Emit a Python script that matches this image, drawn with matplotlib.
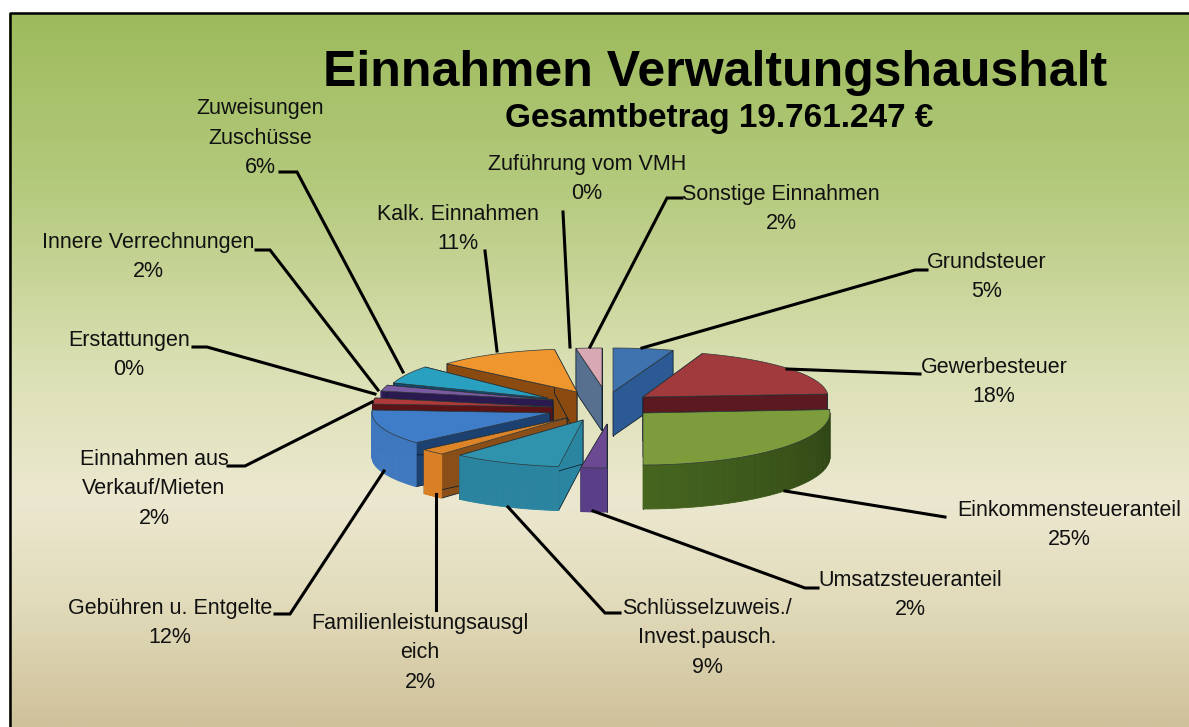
import numpy as np
import matplotlib
matplotlib.use("Agg")
import matplotlib.pyplot as plt
from matplotlib.colors import LinearSegmentedColormap, to_rgb

# ---- data ----
categories = ["Grundsteuer", "Gewerbesteuer", "Einkommensteueranteil", "Umsatzsteueranteil",
              "Schlüsselzuweis./\nInvest.pausch.", "Familienleistungsausgl\neich", "Gebühren u. Entgelte",
              "Einnahmen aus\nVerkauf/Mieten", "Erstattungen", "Innere Verrechnungen",
              "Zuweisungen\nZuschüsse", "Kalk. Einnahmen", "Zuführung vom VMH", "Sonstige Einnahmen"]
shares = [5, 18, 25, 2, 9, 2, 12, 2, 0, 2, 6, 11, 0, 2]

# ---- style / layout ----
top_colors = ["#3f73b0", "#a03a3c", "#7d9c3c", "#6b4a93", "#2f93ad", "#dd8428", "#3f7dc8",
              "#b03a3a", "#6b4a93", "#7a5aa0", "#2aa0c0", "#f0962e", "#58708f", "#d8a8b4"]
rim_colors = ["#2c5a94", "#5c1a20", "#46661f", "#5a3f88", "#2a84a0", "#d97f25", "#4078bf",
              "#5a1418", "#4e3a78", "#3a2a66", "#124a70", "#8a4a10", "#58708f", "#58708f"]
side_colors = ["#2c5a94", "#5c1a20", "#3f5a1c", "#4e3a78", "#2a86a0", "#8a4f18", "#1c4070",
               "#5a1418", "#4e3a78", "#2a1a50", "#124a70", "#8a4a10", "#58708f", "#58708f"]
apex_x = [613, 643, 643, 607, 583, 567, 550, 553, 553, 553, 547, 577, 600, 602]
apex_y = [392, 397, 413, 424, 420, 418, 413, 407, 400, 400, 398, 392, 387, 387]
radius_x = [187, 185, 187, 200, 187, 190, 178, 181, 175, 175, 162, 173, 200, 200]
radius_y = [44, 46, 52, 44, 47, 48, 45, 46, 46, 46, 47, 43, 39, 39]
depth = 44
draw_order = [13, 11, 10, 9, 7, 6, 5, 4, 3, 0, 1, 2]

label_x = [987, 994, 1069, 910, 707, 420, 170, 154, 129, 148, 260, 458, 587, 781]
label_y = [277, 382, 525, 595, 638, 653, 623, 489, 355, 257, 138, 229, 179, 209]

leaders = [[(927, 270), (915, 270), (642, 348)],
           [(920, 374), (787, 369)],
           [(945, 517), (785, 491)],
           [(818, 588), (805, 588), (593, 511)],
           [(620, 613), (605, 613), (508, 507)],
           [(436, 610), (436, 494)],
           [(275, 614), (290, 614), (384, 471)],
           [(228, 466), (245, 466), (372, 402)],
           [(193, 347), (207, 347), (375, 394)],
           [(256, 250), (270, 250), (378, 390)],
           [(280, 172), (297, 172), (403, 372)],
           [(485, 251), (497, 351)],
           [(563, 212), (570, 347)],
           [(682, 198), (667, 198), (590, 347)]]

plt.rcParams["font.family"] = ["Liberation Sans", "DejaVu Sans"]
fig = plt.figure(figsize=(11.89, 7.27), dpi=100, facecolor="white")
ax = fig.add_axes([0, 0, 1, 1])
ax.axis("off")

# background gradient and frame (open on the right and at the bottom)
grad = LinearSegmentedColormap.from_list(
    "bg", [(0, "#9dbb5c"), (0.25, "#b5ca7e"), (0.5, "#dbe0b4"), (0.68, "#ece8d0"), (0.82, "#e2dcbc"), (1, "#cfc19a")])
ax.imshow(np.linspace(0, 1, 256)[:, None], cmap=grad, aspect="auto",
          extent=(9, 1189, 727, 13), zorder=0)
ax.plot([9.5, 9.5, 1189], [727, 13, 13], color="black", lw=1.8, zorder=1)
ax.set_xlim(0, 1189)
ax.set_ylim(727, 0)

# exploded pie drawn from the shares
total = sum(shares)
edges = np.cumsum([0] + shares) / total * 2 * np.pi


def point(i, a, z=0.0):
    return (apex_x[i] + radius_x[i] * np.sin(a), apex_y[i] - radius_y[i] * np.cos(a) + z)


def side(i, a):
    pts = [point(i, a), (apex_x[i], apex_y[i]), (apex_x[i], apex_y[i] + depth), point(i, a, depth)]
    ax.fill(*zip(*pts), color=side_colors[i], ec="#102030", lw=0.6, zorder=3)


for i in draw_order:
    a0, a1 = edges[i], edges[i + 1]
    side(i, a0)
    side(i, a1)
    lo, hi = max(a0, np.pi / 2), min(a1, 3 * np.pi / 2 + 0.2)
    if hi > lo:
        arc = np.linspace(lo, hi, 41)
        base = np.array(to_rgb(rim_colors[i]))
        for s, e in zip(arc[:-1], arc[1:]):
            shade = 1 - 0.33 * max(0.0, (np.pi - s) / (np.pi / 2))
            pts = [point(i, s), point(i, e), point(i, e, depth), point(i, s, depth)]
            ax.fill(*zip(*pts), color=tuple(base * shade), lw=0.6, zorder=3)
    arc = np.linspace(a0, a1, 40)
    pts = [(apex_x[i], apex_y[i])] + [point(i, a) for a in arc]
    ax.fill(*zip(*pts), color=top_colors[i], ec="#303838", lw=0.5, zorder=3)

# leader lines and labels
for path in leaders:
    ax.plot(*zip(*path), color="black", lw=2.2, solid_joinstyle="miter", zorder=4)
for name, v, x, y in zip(categories, shares, label_x, label_y):
    ax.text(x, y, f"{name}\n{v}%", ha="center", va="center", fontsize=15.5,
            linespacing=1.52, color="#111111", zorder=5)

ax.text(715.5, 73, "Einnahmen Verwaltungshaushalt", ha="center", va="center",
        fontsize=36, fontweight="bold", color="black", zorder=5)
ax.text(719, 118, "Gesamtbetrag 19.761.247 €", ha="center", va="center",
        fontsize=24, fontweight="bold", color="black", zorder=5)

fig.savefig("out.png", dpi=100)
